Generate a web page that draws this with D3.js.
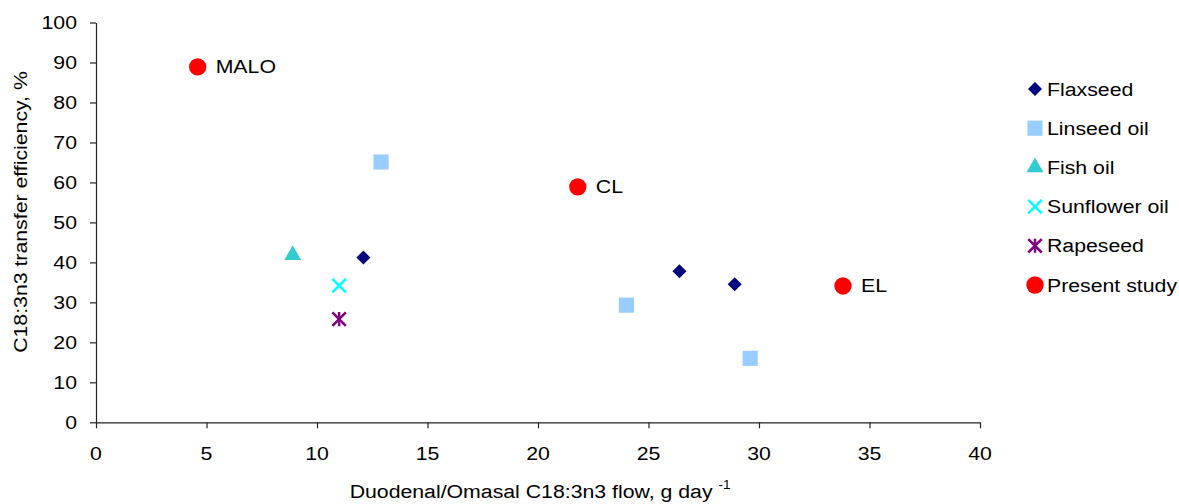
<!DOCTYPE html>
<html><head><meta charset="utf-8">
<script src="https://cdn.jsdelivr.net/npm/d3@7"></script>
<style>body{margin:0;background:#fff}svg{display:block;font-family:"Liberation Sans",Arial,sans-serif}</style>
</head><body><svg id="c" width="1179" height="504"></svg>
<script>
const seriesNames = ["Flaxseed","Linseed oil","Fish oil","Sunflower oil","Rapeseed","Present study"];
const flaxseed = [[12.1,41.2],[26.4,37.8],[28.9,34.5]];
const linseedOil = [[12.9,65.1],[24.0,29.3],[29.6,16.0]];
const fishOil = [[8.9,41.8]];
const sunflowerOil = [[11.0,34.2]];
const rapeseed = [[11.0,25.8]];
const presentStudy = [[4.6,88.9],[21.8,58.9],[33.8,34.1]];
const presentLabels = ["MALO","CL","EL"];
const xTicks = [0,5,10,15,20,25,30,35,40];
const yTicks = [0,10,20,30,40,50,60,70,80,90,100];

const svg = d3.select("#c");
const x = d3.scaleLinear().domain([0,40]).range([96,980]);
const y = d3.scaleLinear().domain([0,100]).range([422.3,22.5]);
const fs = 19;
const sx = 1.12;

function label(parent, px, py, txt, anchor, rot){
  const t = parent.append("text")
    .attr("transform", `translate(${px},${py})` + (rot ? ` rotate(${rot})` : "") + ` scale(${sx},1)`)
    .attr("font-size", fs).attr("fill","#000").attr("text-anchor", anchor || "start");
  if (txt !== null) t.text(txt);
  return t;
}

const xa = svg.append("g").attr("transform",`translate(0,${y(0)})`)
  .call(d3.axisBottom(x).tickValues(xTicks).tickSize(6).tickSizeOuter(0).tickFormat(""));
const ya = svg.append("g").attr("transform",`translate(${x(0)},0)`)
  .call(d3.axisLeft(y).tickValues(yTicks).tickSize(6).tickSizeOuter(0).tickFormat(""));
[xa,ya].forEach(a=>{
  a.selectAll("path,line").attr("stroke","#222").attr("stroke-width",1.2);
});
const tl = svg.append("g");
xTicks.forEach(v=>label(tl, x(v), 460, String(v), "middle"));
yTicks.forEach(v=>label(tl, 77, y(v)+6.7, String(v), "end"));

label(svg, 27, 212, "C18:3n3 transfer efficiency, %", "middle", -90);
const xt = label(svg, 540, 498, null, "middle");
xt.append("tspan").text("Duodenal/Omasal C18:3n3 flow, g day ");
xt.append("tspan").attr("font-size",12).attr("dy",-9).text("-1");

const asteriskX = {
  draw(ctx, size){
    const r = Math.sqrt(size)/2;
    ctx.moveTo(-r,-r); ctx.lineTo(r,r);
    ctx.moveTo(-r,r); ctx.lineTo(r,-r);
    ctx.moveTo(0,-r*1.05); ctx.lineTo(0,r*1.05);
  }
};
const crossX = {
  draw(ctx, size){
    const r = Math.sqrt(size)/2;
    ctx.moveTo(-r,-r); ctx.lineTo(r,r);
    ctx.moveTo(-r,r); ctx.lineTo(r,-r);
  }
};
const sym = {
  "Flaxseed": {fill:"#000080", d: d3.symbol(d3.symbolDiamond2, 125)()},
  "Linseed oil": {fill:"#99CCFF", d: d3.symbol(d3.symbolSquare, 230)()},
  "Fish oil": {fill:"#33CCCC", d: d3.symbol(d3.symbolTriangle, 125)()},
  "Sunflower oil": {stroke:"#00FFFF", d: d3.symbol(crossX, 185)()},
  "Rapeseed": {stroke:"#800080", d: d3.symbol(asteriskX, 180)()},
  "Present study": {fill:"#FF0000", d: d3.symbol(d3.symbolCircle, 236)()}
};
const data = [flaxseed,linseedOil,fishOil,sunflowerOil,rapeseed,presentStudy];
function drawSym(g,name,cx,cy){
  const s = sym[name];
  const p = g.append("path").attr("d",s.d).attr("transform",`translate(${cx},${cy})`);
  if(s.fill){p.attr("fill",s.fill);} else {p.attr("fill","none").attr("stroke",s.stroke).attr("stroke-width",2.5);}
}
const pg = svg.append("g");
seriesNames.forEach((n,i)=>{
  data[i].forEach(d=>drawSym(pg,n,x(d[0]),y(d[1])));
});
presentStudy.forEach((d,i)=>{
  label(svg, x(d[0])+18, y(d[1])+6.5, presentLabels[i], "start");
});

const lg = svg.append("g");
seriesNames.forEach((n,i)=>{
  const yy = 89 + i*39.2;
  drawSym(lg,n,1035,yy);
  label(lg, 1047, yy+6.5, n, "start");
});
</script></body></html>
